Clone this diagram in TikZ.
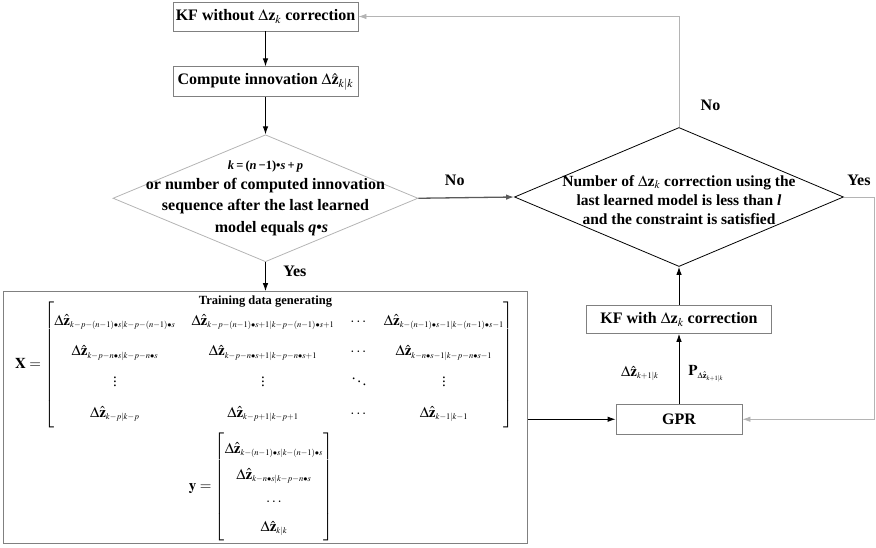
\documentclass[tikz,border=0pt]{standalone}
\usepackage{amsmath}
\usepackage{mathptmx}
\usepackage{fontspec}
\setmainfont{Liberation Serif}
\usepackage{tikz}
\usetikzlibrary{positioning, arrows.meta, shapes.geometric}
\definecolor{edge}{HTML}{808080}
\definecolor{faint}{HTML}{B4B4B4}
\definecolor{mid}{HTML}{5A5A5A}
\DeclareMathSizes{15}{15}{8.5}{6.5}
\newcommand{\dz}{\Delta\hat{\mathbf{z}}}

\begin{document}
\begin{tikzpicture}[x=1pt, y=-1pt,
        every node/.style={font=\fontsize{16}{19}\selectfont\bfseries},
        box/.style={rectangle, draw=edge, line width=0.9pt, minimum width=185pt,
          minimum height=29pt, inner sep=0pt, align=center},
        cond/.style={diamond, draw, line width=0.8pt, inner sep=0pt},
        arr/.style={-{Latex[length=8pt, width=5.5pt]}, line width=0.9pt},
        back/.style={arr, draw=faint, line width=0.8pt},
        mat/.style={font=\fontsize{15}{18}\selectfont, inner sep=0pt}]
      \useasboundingbox (0,0) rectangle (876,547);
      % left column
      \node[box] (kfwo) at (265.5,16.5) {KF without $\Delta\mathbf{z}_k$ correction};
      \node[box, minimum height=30pt, below=35pt of kfwo] (innov) {Compute innovation $\dz_{k|k}$};
      \node[cond, draw=faint, minimum width=305pt, minimum height=127pt, below=37pt of innov] (d1) {};
      \node[align=center, font=\fontsize{16}{21.5}\selectfont\bfseries] (d1txt) at (d1.center)
        {{\fontsize{12.5}{14}\selectfont\textit{k}\,=\,(\textit{n}\,−1)•\textit{s}\,+\,\textit{p}}\\[-2pt]
         or number of computed innovation\\
         sequence after the last learned\\
         \hspace*{12pt}model equals \textit{q}•\textit{s}};
      \node[draw=edge, line width=0.9pt, minimum width=524pt, minimum height=252pt,
        inner sep=0pt, below=29pt of d1] (train) {};
      \node[below=1pt of train.north, font=\fontsize{12.5}{14}\selectfont\bfseries] (trtitle) {Training data generating};
      \node[mat] (xmat) at (264.5,365) {\setlength{\arraycolsep}{8pt}\renewcommand{\arraystretch}{1.7}%
        $\mathbf{X}=\begin{bmatrix}
          \dz_{k-p-(n-1)\bullet s|k-p-(n-1)\bullet s} & \dz_{k-p-(n-1)\bullet s+1|k-p-(n-1)\bullet s+1} & \cdots & \dz_{k-(n-1)\bullet s-1|k-(n-1)\bullet s-1}\\
          \dz_{k-p-n\bullet s|k-p-n\bullet s} & \dz_{k-p-n\bullet s+1|k-p-n\bullet s+1} & \cdots & \dz_{k-n\bullet s-1|k-p-n\bullet s-1}\\
          \vdots & \vdots & \ddots & \vdots\\
          \dz_{k-p|k-p} & \dz_{k-p+1|k-p+1} & \cdots & \dz_{k-1|k-1}
        \end{bmatrix}$};
      \node[mat] (yvec) at (261,487) {\renewcommand{\arraystretch}{1.45}%
        $\mathbf{y}=\begin{bmatrix}
          \dz_{k-(n-1)\bullet s|k-(n-1)\bullet s}\\
          \dz_{k-n\bullet s|k-p-n\bullet s}\\
          \cdots\\
          \dz_{k|k}
        \end{bmatrix}$};
      % right column
      \node[cond, minimum width=329pt, minimum height=139pt] (d2) at (679,197) {};
      \node[align=center, font=\fontsize{15.5}{19}\selectfont\bfseries] (d2txt) at ([yshift=-3pt]d2.center)
        {Number of $\Delta\mathbf{z}_k$ correction using the\\
         last learned model is less than \textit{l}\\
         and the constraint is satisfied};
      \node[box, minimum height=28pt, below=38pt of d2] (kfw) {KF with $\Delta\mathbf{z}_k$ correction};
      \node[box, minimum width=126pt, minimum height=30pt, below=70pt of kfw] (gpr) {GPR};
      \coordinate (rside) at (874,0);
      % connectors
      \draw[arr] (kfwo) -- (innov);
      \draw[arr] (innov) -- (d1);
      \draw[arr] (d1) -- node[pos=0.3, right=14pt] {Yes} (train);
      \draw[arr, draw=mid, line width=1.3pt] (d1.east) -- node[pos=0.38, above=8pt] {No} (d2.west);
      \draw[back] (d2.north) |- node[pos=0.1, right=18pt] {No} (kfwo.east);
      \draw[back] (d2.east) -- node[above=8pt] {Yes} (d2.east -| rside) |- (gpr.east);
      \draw[arr] (kfw) -- (d2);
      \draw[arr] (gpr) -- node[pos=0.43, left=20pt, mat] {$\dz_{k+1|k}$}
        node[pos=0.43, right=9pt, mat] {$\mathbf{P}_{\dz_{k+1|k}}$} (kfw);
      \draw[arr] (train.east |- gpr.west) -- (gpr.west);
    \end{tikzpicture}
\end{document}
